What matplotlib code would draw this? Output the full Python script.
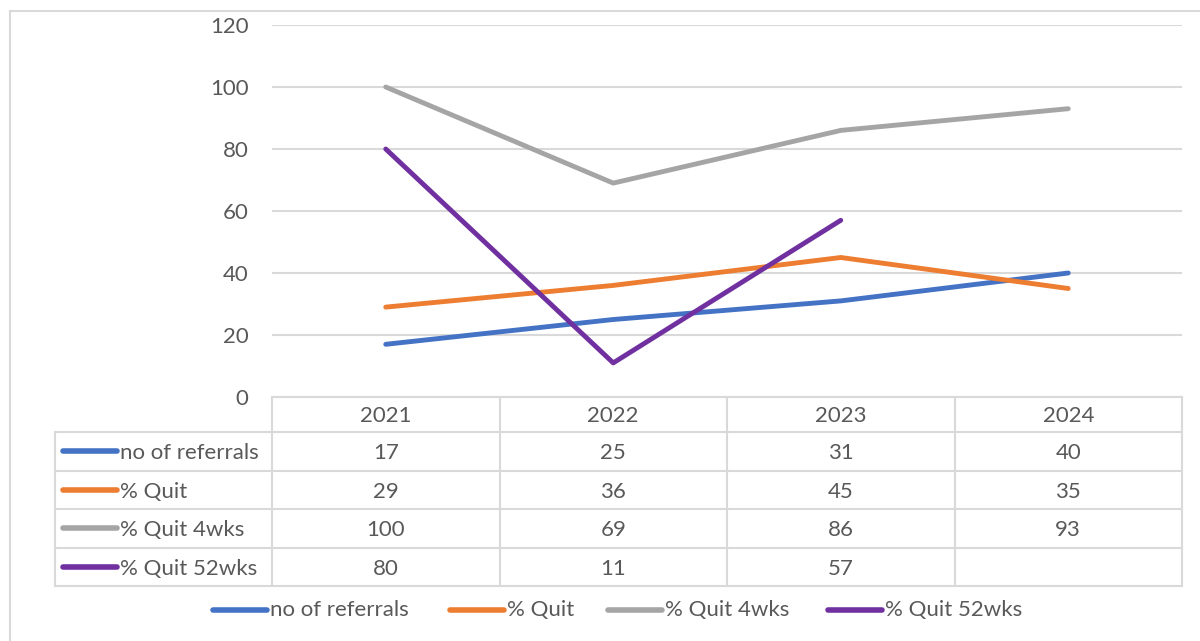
import matplotlib.pyplot as plt
from matplotlib.lines import Line2D
import numpy as np

years = ["2021", "2022", "2023", "2024"]
series_names = ["no of referrals", "% Quit", "% Quit 4wks", "% Quit 52wks"]
referrals = [17, 25, 31, 40]
quit_pct = [29, 36, 45, 35]
quit_4wks = [100, 69, 86, 93]
quit_52wks = [80, 11, 57, None]
colors = ["#4472C4", "#ED7D31", "#A5A5A5", "#7030A0"]
yticks = [0, 20, 40, 60, 80, 100, 120]

all_series = [referrals, quit_pct, quit_4wks, quit_52wks]

plt.rcParams['font.family'] = ['Lato', 'DejaVu Sans']
W, H = 1200, 641
fig = plt.figure(figsize=(12, 6.41), dpi=100)
text_col = "#595959"
grid_col = "#D9D9D9"
fs = 16
txt_shift = 2  # text sits a little below the cell centre


def fx(px):
    return px / W


def fy(py):
    return 1 - py / H


# outer chart frame
fig.add_artist(Line2D([fx(10), fx(10)], [fy(11), fy(645)], color=grid_col, lw=1.5))
fig.add_artist(Line2D([fx(10), fx(1205)], [fy(11), fy(11)], color=grid_col, lw=1.5))

# plot area
left, right, top, bottom = 272, 1182, 25, 397
ax = fig.add_axes([fx(left), fy(bottom), fx(right - left), (bottom - top) / H])
x = np.arange(len(years))
for vals, c, name in zip(all_series, colors, series_names):
    v = np.array([np.nan if a is None else a for a in vals], dtype=float)
    ax.plot(x, v, color=c, lw=3.5, solid_capstyle='round', label=name)
ax.set_xlim(-0.5, len(years) - 0.5)
ax.set_ylim(0, 120)
ax.set_yticks(yticks)
ax.set_xticks([])
ax.grid(axis='y', color=grid_col, lw=1.5)
ax.set_axisbelow(True)
for s in ax.spines.values():
    s.set_visible(False)
ax.tick_params(axis='y', length=0, pad=17, labelsize=fs, labelcolor=text_col)

# data table
col_w = (right - left) / len(years)
header_bot = 432
row_h = 38.5
n_rows = len(series_names)
table_bot = header_bot + row_h * n_rows
label_left = 55

# horizontal lines
fig.add_artist(Line2D([fx(left), fx(right)], [fy(bottom), fy(bottom)], color=grid_col, lw=1.5))
for i in range(n_rows + 1):
    yy = header_bot + i * row_h
    fig.add_artist(Line2D([fx(label_left), fx(right)], [fy(yy), fy(yy)], color=grid_col, lw=1.5))
# vertical lines
for j in range(len(years) + 1):
    xx = left + j * col_w
    fig.add_artist(Line2D([fx(xx), fx(xx)], [fy(bottom), fy(table_bot)], color=grid_col, lw=1.5))
fig.add_artist(Line2D([fx(label_left), fx(label_left)], [fy(header_bot), fy(table_bot)], color=grid_col, lw=1.5))

# header
for j, yr in enumerate(years):
    fig.text(fx(left + (j + 0.5) * col_w), fy((bottom + header_bot) / 2 + txt_shift), yr,
             ha='center', va='center', fontsize=fs, color=text_col)

# rows
for i, (name, vals, c) in enumerate(zip(series_names, all_series, colors)):
    yline = fy(header_bot + (i + 0.5) * row_h)
    yc = fy(header_bot + (i + 0.5) * row_h + txt_shift)
    fig.add_artist(Line2D([fx(63), fx(117)], [yline, yline], color=c, lw=4, solid_capstyle='round'))
    fig.text(fx(120), yc, name, ha='left', va='center', fontsize=fs, color=text_col)
    for j, v in enumerate(vals):
        if v is None:
            continue
        fig.text(fx(left + (j + 0.5) * col_w), yc, str(v), ha='center', va='center',
                 fontsize=fs, color=text_col)

# legend below
leg_y = fy(610)
leg_x = [213, 450, 608, 828]
for lx, name, c in zip(leg_x, series_names, colors):
    fig.add_artist(Line2D([fx(lx), fx(lx + 54)], [leg_y, leg_y], color=c, lw=4, solid_capstyle='round'))
    fig.text(fx(lx + 57), leg_y, name, ha='left', va='center', fontsize=fs, color=text_col)

fig.savefig("out.png", dpi=100)
